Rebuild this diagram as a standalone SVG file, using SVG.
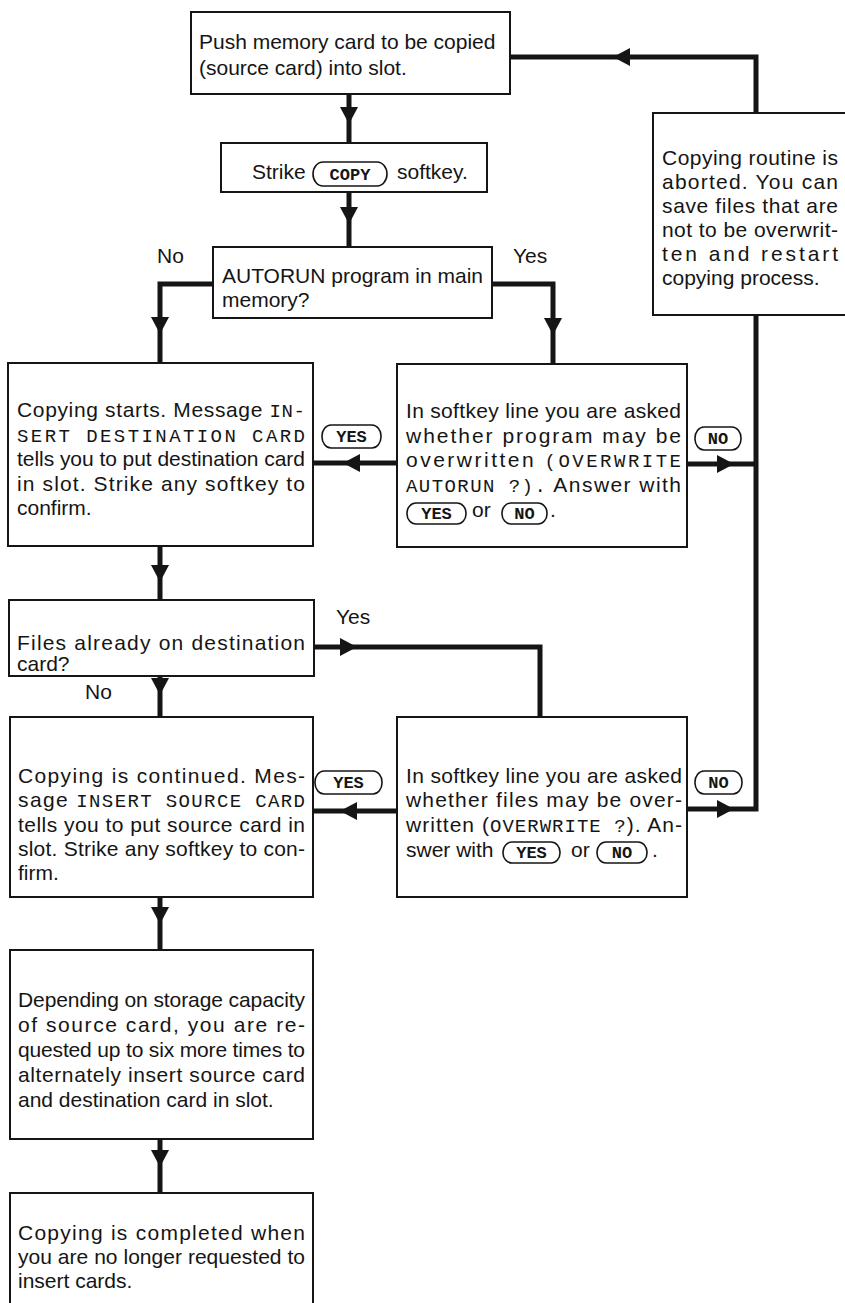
<svg xmlns="http://www.w3.org/2000/svg" xmlns:xlink="http://www.w3.org/1999/xlink" width="845" height="1303" viewBox="0 0 845 1303">
<style>
.box{fill:#fff;stroke:#151515;stroke-width:2}
.t{font-family:"Liberation Sans",Arial,sans-serif;font-size:21px;fill:#151515}
.m{font-family:"Liberation Mono","Courier New",monospace;font-size:19px}
.conn{fill:none;stroke:#151515;stroke-width:5;stroke-linejoin:miter;stroke-linecap:butt}
.key rect{fill:#fff;stroke:#151515;stroke-width:1.6}
.key text{font-family:"Liberation Mono","Courier New",monospace;font-size:17px;font-weight:bold;fill:#151515;text-anchor:middle}
.ah{fill:#151515}
</style>
<defs>
<path id="ah" d="M0,0 L-17,-9 L-17,9 Z"/>
</defs>
<rect width="845" height="1303" fill="#fff"/>

<g id="connectors">
<path class="conn" d="M349,94 V143"/>
<path class="conn" d="M349,192 V247"/>
<path class="conn" d="M213,284 H160 V363"/>
<path class="conn" d="M492,284 H553 V364"/>
<path class="conn" d="M397,463 H313"/>
<path class="conn" d="M687,464 H756"/>
<path class="conn" d="M687,809 H756 V315"/>
<path class="conn" d="M756,113 V57 H510"/>
<path class="conn" d="M160,546 V600"/>
<path class="conn" d="M314,647 H540 V717"/>
<path class="conn" d="M160,676 V717"/>
<path class="conn" d="M397,811 H313"/>
<path class="conn" d="M160,897 V950"/>
<path class="conn" d="M160,1139 V1193"/>
<use href="#ah" class="ah" transform="translate(349,124) rotate(90)"/>
<use href="#ah" class="ah" transform="translate(349,224) rotate(90)"/>
<use href="#ah" class="ah" transform="translate(160,334) rotate(90)"/>
<use href="#ah" class="ah" transform="translate(553,335) rotate(90)"/>
<use href="#ah" class="ah" transform="translate(343,463) rotate(180)"/>
<use href="#ah" class="ah" transform="translate(734,464)"/>
<use href="#ah" class="ah" transform="translate(734,809)"/>
<use href="#ah" class="ah" transform="translate(613,57) rotate(180)"/>
<use href="#ah" class="ah" transform="translate(160,582) rotate(90)"/>
<use href="#ah" class="ah" transform="translate(357,647)"/>
<use href="#ah" class="ah" transform="translate(160,695) rotate(90)"/>
<use href="#ah" class="ah" transform="translate(340,811) rotate(180)"/>
<use href="#ah" class="ah" transform="translate(160,924) rotate(90)"/>
<use href="#ah" class="ah" transform="translate(160,1167) rotate(90)"/>
</g>

<g id="labels">
<text class="t" x="157" y="263">No</text>
<text class="t" x="513" y="263">Yes</text>
<text class="t" x="336" y="624">Yes</text>
<text class="t" x="85" y="699">No</text>
<g class="key"><rect x="322" y="425" width="59" height="23" rx="9" ry="11"/><text x="351.5" y="442">YES</text></g>
<g class="key"><rect x="695" y="427" width="46" height="23" rx="9" ry="11"/><text x="718" y="444">NO</text></g>
<g class="key"><rect x="315" y="771" width="67" height="23" rx="9" ry="11"/><text x="348.5" y="788">YES</text></g>
<g class="key"><rect x="695" y="771" width="47" height="23" rx="9" ry="11"/><text x="718.5" y="788">NO</text></g>
</g>

<g id="n1">
<rect class="box" x="191" y="12" width="319" height="82"/>
<text class="t" x="199" y="49">Push memory card to be copied</text>
<text class="t" x="199" y="75">(source card) into slot.</text>
</g>

<g id="n2">
<rect class="box" x="221" y="143" width="266" height="49"/>
<text class="t" x="252" y="179">Strike</text>
<g class="key"><rect x="313" y="162" width="74" height="24" rx="10" ry="12"/><text x="350" y="180">COPY</text></g>
<text class="t" x="397" y="179">softkey.</text>
</g>

<g id="n3">
<rect class="box" x="213" y="247" width="279" height="71"/>
<text class="t" x="222" y="283">AUTORUN program in main</text>
<text class="t" x="222" y="307">memory?</text>
</g>

<g id="n4">
<rect class="box" x="8" y="363" width="305" height="183"/>
<text class="t" x="17" y="417" textLength="288" lengthAdjust="spacing">Copying starts. Message <tspan class="m">IN-</tspan></text>
<text class="t m" x="17" y="442" textLength="288" lengthAdjust="spacing">SERT DESTINATION CARD</text>
<text class="t" x="17" y="466" textLength="288" lengthAdjust="spacing">tells you to put destination card</text>
<text class="t" x="17" y="491" textLength="288" lengthAdjust="spacing">in slot. Strike any softkey to</text>
<text class="t" x="17" y="515">confirm.</text>
</g>

<g id="n5">
<rect class="box" x="397" y="364" width="290" height="183"/>
<text class="t" x="406" y="418" textLength="275" lengthAdjust="spacing">In softkey line you are asked</text>
<text class="t" x="406" y="443" textLength="275" lengthAdjust="spacing">whether program may be</text>
<text class="t" x="406" y="467" textLength="275" lengthAdjust="spacing">overwritten <tspan class="m">(OVERWRITE</tspan></text>
<text class="t" x="406" y="492" textLength="275" lengthAdjust="spacing"><tspan class="m">AUTORUN ?).</tspan> Answer with</text>
<g class="key"><rect x="407" y="503" width="59" height="21" rx="9" ry="10"/><text x="436.5" y="519">YES</text></g>
<text class="t" x="472" y="517">or</text>
<g class="key"><rect x="502" y="503" width="45" height="21" rx="9" ry="10"/><text x="524.5" y="519">NO</text></g>
<text class="t" x="550" y="517">.</text>
</g>

<g id="n6">
<rect class="box" x="9" y="600" width="305" height="76"/>
<text class="t" x="17" y="650" textLength="288" lengthAdjust="spacing">Files already on destination</text>
<text class="t" x="17" y="671">card?</text>
</g>

<g id="n7">
<rect class="box" x="397" y="717" width="290" height="180"/>
<text class="t" x="406" y="783" textLength="276" lengthAdjust="spacing">In softkey line you are asked</text>
<text class="t" x="406" y="807" textLength="276" lengthAdjust="spacing">whether files may be over-</text>
<text class="t" x="406" y="832" textLength="276" lengthAdjust="spacing">written (<tspan class="m">OVERWRITE ?</tspan>). An-</text>
<text class="t" x="406" y="857">swer with</text>
<g class="key"><rect x="503" y="842" width="57" height="21" rx="9" ry="10"/><text x="531.5" y="858">YES</text></g>
<text class="t" x="571" y="857">or</text>
<g class="key"><rect x="597" y="842" width="50" height="21" rx="9" ry="10"/><text x="622" y="858">NO</text></g>
<text class="t" x="652" y="857">.</text>
</g>

<g id="n8">
<rect class="box" x="10" y="717" width="303" height="180"/>
<text class="t" x="18" y="783" textLength="287" lengthAdjust="spacing">Copying is continued. Mes-</text>
<text class="t" x="18" y="807" textLength="287" lengthAdjust="spacing">sage <tspan class="m">INSERT SOURCE CARD</tspan></text>
<text class="t" x="18" y="832" textLength="287" lengthAdjust="spacing">tells you to put source card in</text>
<text class="t" x="18" y="856" textLength="287" lengthAdjust="spacing">slot. Strike any softkey to con-</text>
<text class="t" x="18" y="880">firm.</text>
</g>

<g id="n9">
<rect class="box" x="10" y="950" width="303" height="189"/>
<text class="t" x="18" y="1007" textLength="287" lengthAdjust="spacing">Depending on storage capacity</text>
<text class="t" x="18" y="1032" textLength="287" lengthAdjust="spacing">of source card, you are re-</text>
<text class="t" x="18" y="1057" textLength="287" lengthAdjust="spacing">quested up to six more times to</text>
<text class="t" x="18" y="1082" textLength="287" lengthAdjust="spacing">alternately insert source card</text>
<text class="t" x="18" y="1107">and destination card in slot.</text>
</g>

<g id="n10">
<path class="box" d="M10,1306 V1193 H313 V1306"/>
<text class="t" x="18" y="1240" textLength="287" lengthAdjust="spacing">Copying is completed when</text>
<text class="t" x="18" y="1264" textLength="287" lengthAdjust="spacing">you are no longer requested to</text>
<text class="t" x="18" y="1288">insert cards.</text>
</g>

<g id="n11">
<path class="box" d="M850,113 H653 V315 H850"/>
<text class="t" x="662" y="165" textLength="176" lengthAdjust="spacing">Copying routine is</text>
<text class="t" x="662" y="189" textLength="176" lengthAdjust="spacing">aborted. You can</text>
<text class="t" x="662" y="213" textLength="176" lengthAdjust="spacing">save files that are</text>
<text class="t" x="662" y="237" textLength="176" lengthAdjust="spacing">not to be overwrit-</text>
<text class="t" x="662" y="261" textLength="176" lengthAdjust="spacing">ten and restart</text>
<text class="t" x="662" y="285">copying process.</text>
</g>
</svg>
